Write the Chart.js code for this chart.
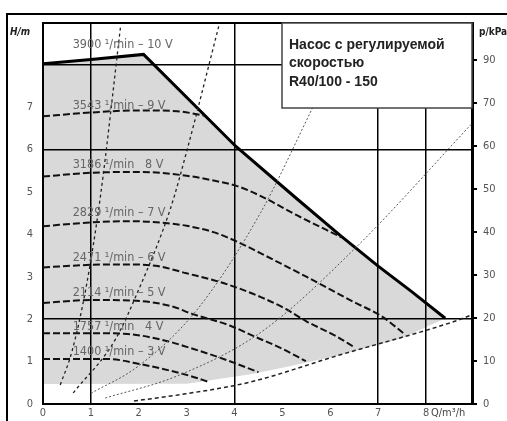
<!DOCTYPE html>
<html>
<head>
<meta charset="utf-8">
<script src="https://cdn.jsdelivr.net/npm/chart.js@4.4.0/dist/chart.umd.min.js"></script>
<style>
  body { margin: 0; background: #fff; }
  #pumpChart { display: block; }
</style>
</head>
<body>
<canvas id="pumpChart" width="507" height="421"></canvas>
<script>
// Axis ticks
const flowTicks = [0, 1, 2, 3, 4, 5, 6, 7, 8];
const headTickLabels = ['0', '1', '2', '3', '4', '5', '6', '7', ''];
const pressTickLabels = ['0', '10', '20', '30', '40', '50', '60', '70', '90'];

// Max curve (10 V) and lower limit of the working range
const flowMax = [0, 1, 2.1, 4.03, 5.32, 6.2, 7.0, 7.7, 8.4];
const headMax = [8.02, 8.12, 8.24, 6.07, 4.82, 3.98, 3.25, 2.65, 2.02];
const flowMin = [0, 3.0, 4.34, 5.2, 6.12, 7.5, 8.4];
const headMin = [0.47, 0.48, 0.7, 0.9, 1.13, 1.55, 2.02];

// Speed curves
const flow9V = [0, 1, 2, 2.8, 3.37];
const head9V = [6.78, 6.87, 6.92, 6.9, 6.8];
const flow8V = [0, 1, 2, 3, 3.5, 4.07, 4.55, 5.3, 6.23];
const head8V = [5.36, 5.45, 5.47, 5.38, 5.28, 5.13, 4.9, 4.45, 3.93];
const flow7V = [0, 1, 1.82, 2.6, 3, 3.56, 4.03, 4.55, 5.5, 6.5, 7.07, 7.55];
const head7V = [4.19, 4.28, 4.31, 4.26, 4.2, 4.05, 3.84, 3.55, 3.0, 2.4, 2.07, 1.65];
const flow6V = [0, 1, 1.82, 2.4, 3, 3.65, 4.03, 4.55, 5.07, 5.5, 6.12, 6.5];
const head6V = [3.22, 3.28, 3.29, 3.25, 3.08, 2.89, 2.75, 2.52, 2.24, 1.95, 1.6, 1.34];
const flow5V = [0, 1, 1.85, 2.7, 3.1, 3.9, 4.4, 5.0, 5.49];
const head5V = [2.38, 2.45, 2.44, 2.3, 2.13, 1.85, 1.6, 1.3, 1.01];
const flow4V = [0, 1, 1.77, 2.6, 3.02, 3.8, 4.5];
const head4V = [1.67, 1.67, 1.65, 1.48, 1.34, 1.05, 0.75];
const flow3V = [0, 1.34, 2.03, 3.08, 3.46];
const head3V = [1.06, 1.06, 0.94, 0.66, 0.52];

const speedLabels = [
  '3900 \u00B9/min \u2013 10 V', '3543 \u00B9/min \u2013 9 V', '3186 \u00B9/min   8 V',
  '2829 \u00B9/min \u2013 7 V', '2471 \u00B9/min \u2013 6 V', '2114 \u00B9/min \u2013 5 V',
  '1757 \u00B9/min   4 V', '1400 \u00B9/min \u2013 3 V'
];
const speedLabelHeads = [8.46, 7.03, 5.63, 4.5, 3.44, 2.62, 1.82, 1.23];

// System curves (dotted)
const flowSysA = [0.36, 0.6, 0.9, 1.2, 1.62];
const headSysA = [0.45, 1.22, 2.75, 4.9, 8.9];
const flowSysB = [0.63, 1.5, 2.0, 2.66, 3.0, 3.67];
const headSysB = [0.26, 1.5, 2.7, 4.6, 5.95, 8.9];
const flowSysC = [1.0, 2.0, 3.23, 4.55, 5.64];
const headSysC = [0.25, 0.9, 2.24, 4.52, 7.0];
const flowSysD = [1.3, 2.8, 4.55, 6.5, 9.0];
const headSysD = [0.14, 0.66, 1.69, 3.65, 6.66];
const flowSysE = [1.9, 2.98, 4.34, 6.12, 8.6, 9.0];
const headSysE = [0.07, 0.24, 0.52, 1.13, 1.95, 2.12];

const boxLines = ['Насос с регулируемой', 'скоростью', 'R40/100 - 150'];

function pts(qs, hs) {
  return qs.map((q, i) => ({ x: q, y: hs[i] }));
}

function speedSet(qs, hs) {
  return {
    data: pts(qs, hs), borderColor: '#111', borderWidth: 2,
    borderDash: [7, 3], pointRadius: 0, tension: 0.35, cubicInterpolationMode: 'monotone'
  };
}

function sysSet(qs, hs, color, width, dash) {
  return {
    data: pts(qs, hs), borderColor: color, borderWidth: width,
    borderDash: dash, pointRadius: 0, tension: 0.4, cubicInterpolationMode: 'monotone'
  };
}

// Gray working range, drawn under the grid
const rangeFill = {
  id: 'rangeFill',
  beforeDraw(chart) {
    const ctx = chart.ctx, x = chart.scales.x, y = chart.scales.y;
    ctx.save();
    ctx.beginPath();
    flowMax.forEach((q, i) => {
      const px = x.getPixelForValue(q), py = y.getPixelForValue(headMax[i]);
      i === 0 ? ctx.moveTo(px, py) : ctx.lineTo(px, py);
    });
    for (let i = flowMin.length - 1; i >= 0; i--) {
      ctx.lineTo(x.getPixelForValue(flowMin[i]), y.getPixelForValue(headMin[i]));
    }
    ctx.closePath();
    ctx.fillStyle = '#d9d9d9';
    ctx.fill();
    ctx.restore();
  }
};

// Frame, labels, text box
const decorations = {
  id: 'decorations',
  afterDatasetsDraw(chart) {
    const ctx = chart.ctx, x = chart.scales.x, y = chart.scales.y;
    const area = chart.chartArea;
    ctx.save();
    ctx.font = '12.5px "DejaVu Sans Condensed", "DejaVu Sans"';
    ctx.fillStyle = '#666';
    ctx.textBaseline = 'middle';
    speedLabels.forEach((t, i) => {
      ctx.fillText(t, x.getPixelForValue(0.62), y.getPixelForValue(speedLabelHeads[i]));
    });

    // top border of plot
    ctx.strokeStyle = '#000';
    ctx.lineWidth = 2;
    ctx.beginPath();
    ctx.moveTo(area.left, area.top);
    ctx.lineTo(area.right, area.top);
    ctx.stroke();

    // outer frame
    ctx.beginPath();
    ctx.moveTo(7, 421);
    ctx.lineTo(7, 14);
    ctx.lineTo(507, 14);
    ctx.stroke();

    // info box
    const bx = 282, by = area.top, bw = area.right - 282, bh = 85;
    ctx.fillStyle = '#fff';
    ctx.fillRect(bx, by, bw, bh);
    ctx.strokeStyle = '#444';
    ctx.lineWidth = 1.5;
    ctx.strokeRect(bx, by, bw, bh);
    ctx.fillStyle = '#222';
    ctx.font = 'bold 14px "Liberation Sans", Arial';
    boxLines.forEach((t, i) => ctx.fillText(t, 289, 45 + i * 18.5));

    // axis titles
    ctx.fillStyle = '#222';
    ctx.font = 'bold italic 10px "DejaVu Sans Condensed", "DejaVu Sans"';
    ctx.fillText('H/m', 10, 32);
    ctx.font = 'bold 10px "DejaVu Sans Condensed", "DejaVu Sans"';
    ctx.fillText('p/kPa', 479, 32);
    ctx.font = '11px "DejaVu Sans Condensed", "DejaVu Sans"';
    ctx.fillStyle = '#444';
    ctx.fillText('Q/m\u00B3/h', 431, 413);
    ctx.restore();
  }
};

const ctx = document.getElementById('pumpChart').getContext('2d');
const chart = new Chart(ctx, {
  type: 'line',
  data: {
    datasets: [
      sysSet(flowSysA, headSysA, '#222', 1.3, [3, 3]),
      sysSet(flowSysB, headSysB, '#222', 1.3, [3, 3]),
      sysSet(flowSysC, headSysC, '#555', 1, [2, 2]),
      sysSet(flowSysD, headSysD, '#555', 1, [2, 2]),
      sysSet(flowSysE, headSysE, '#222', 1.5, [4, 3]),
      speedSet(flow3V, head3V),
      speedSet(flow4V, head4V),
      speedSet(flow5V, head5V),
      speedSet(flow6V, head6V),
      speedSet(flow7V, head7V),
      speedSet(flow8V, head8V),
      speedSet(flow9V, head9V),
      {
        data: pts(flowMax, headMax), borderColor: '#000', borderWidth: 3,
        pointRadius: 0, tension: 0
      }
    ]
  },
  options: {
    responsive: false,
    animation: false,
    layout: { padding: { left: 8, top: 23, right: 0, bottom: 0 } },
    plugins: { legend: { display: false }, tooltip: { enabled: false } },
    scales: {
      x: {
        type: 'linear', min: 0, max: 8.96,
        afterFit: s => { s.height = 17; },
        afterBuildTicks: s => { s.ticks = flowTicks.map(v => ({ value: v })); },
        ticks: {
          padding: 3, color: '#555', maxRotation: 0,
          font: { size: 11, family: '"DejaVu Sans Condensed", "DejaVu Sans"' },
          callback: v => String(v)
        },
        grid: {
          drawTicks: false, lineWidth: 1.5,
          color: c => [1, 4, 7, 8].includes(c.tick && c.tick.value) ? '#000' : 'rgba(0,0,0,0)'
        },
        border: { color: '#000', width: 2 }
      },
      y: {
        type: 'linear', min: 0, max: 8.98,
        afterFit: s => { s.width = 35; },
        ticks: {
          stepSize: 1, padding: 10, color: '#555',
          font: { size: 11, family: '"DejaVu Sans Condensed", "DejaVu Sans"' },
          callback: v => headTickLabels[v] || ''
        },
        grid: {
          drawTicks: false, lineWidth: 1.5,
          color: c => [2, 6, 8].includes(c.tick && c.tick.value) ? '#000' : 'rgba(0,0,0,0)'
        },
        border: { color: '#000', width: 2 }
      },
      y2: {
        type: 'linear', position: 'right', min: 0, max: 88.6,
        afterFit: s => { s.width = 35; },
        ticks: {
          stepSize: 10, padding: 6, color: '#555',
          font: { size: 11, family: '"DejaVu Sans Condensed", "DejaVu Sans"' },
          callback: v => pressTickLabels[v / 10]
        },
        grid: { drawOnChartArea: false, drawTicks: true, tickLength: 5, color: '#000', lineWidth: 2 },
        border: { color: '#000', width: 3 }
      }
    }
  },
  plugins: [rangeFill, decorations]
});
</script>
</body>
</html>
